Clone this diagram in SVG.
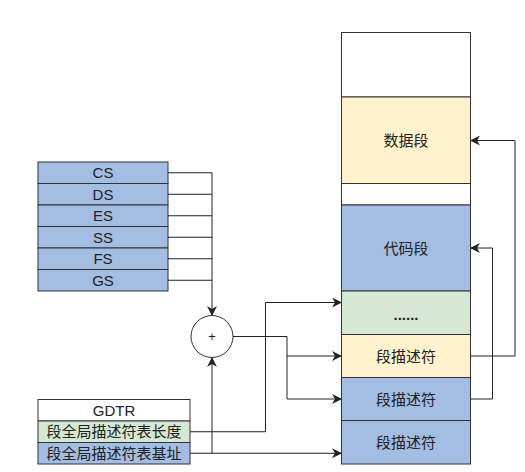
<svg xmlns="http://www.w3.org/2000/svg" width="525" height="472" viewBox="0 0 525 472">
<defs>
<style>
.box{stroke:#333;stroke-width:1}
.w{fill:#ffffff}
.b{fill:#a3bde3}
.y{fill:#fff2cc}
.g{fill:#d5e8d4}
.t{font-family:"Liberation Sans","Noto Sans CJK SC",sans-serif;font-size:15px;fill:#222;text-anchor:middle;dominant-baseline:central}
.c{fill:none;stroke:#222;stroke-width:1}
</style>
<marker id="ah" viewBox="0 0 10 10" refX="9" refY="5" markerWidth="10" markerHeight="10" markerUnits="userSpaceOnUse" orient="auto">
<path d="M0,0 L10,5 L0,10 L3,5 Z" fill="#222"/>
</marker>
</defs>
<rect width="525" height="472" fill="#ffffff"/>
<g id="registers">
<g id="cs"><rect class="box b" x="38" y="162" width="130" height="21.5"/><text class="t" x="103" y="172.75">CS</text></g>
<g id="ds"><rect class="box b" x="38" y="183.5" width="130" height="21.5"/><text class="t" x="103" y="194.25">DS</text></g>
<g id="es"><rect class="box b" x="38" y="205" width="130" height="21.5"/><text class="t" x="103" y="215.75">ES</text></g>
<g id="ss"><rect class="box b" x="38" y="226.5" width="130" height="21.5"/><text class="t" x="103" y="237.25">SS</text></g>
<g id="fs"><rect class="box b" x="38" y="248" width="130" height="21.5"/><text class="t" x="103" y="258.75">FS</text></g>
<g id="gs"><rect class="box b" x="38" y="269.5" width="130" height="21.5"/><text class="t" x="103" y="280.25">GS</text></g>
</g>
<g id="gdtr">
<g id="gdtr-title"><rect class="box w" x="38" y="399.5" width="152" height="21.5"/><text class="t" x="114" y="410.25">GDTR</text></g>
<g id="gdtr-limit"><rect class="box g" x="38" y="421" width="152" height="21.5"/><text class="t" x="114" y="431.75">段全局描述符表长度</text></g>
<g id="gdtr-base"><rect class="box b" x="38" y="442.5" width="152" height="21.5"/><text class="t" x="114" y="453.25">段全局描述符表基址</text></g>
</g>
<g id="adder">
<circle class="box w" cx="212" cy="336.5" r="21"/>
<text class="t" x="212" y="336.5" style="font-size:13px">+</text>
</g>
<g id="memory">
<g id="mem-top"><rect class="box w" x="341.5" y="32.5" width="129" height="64.5"/></g>
<g id="data-seg"><rect class="box y" x="341.5" y="97" width="129" height="86.5"/><text class="t" x="406" y="140.5">数据段</text></g>
<g id="mem-gap"><rect class="box w" x="341.5" y="183.5" width="129" height="21.5"/></g>
<g id="code-seg"><rect class="box b" x="341.5" y="205" width="129" height="86"/><text class="t" x="406" y="248">代码段</text></g>
<g id="dots"><rect class="box g" x="341.5" y="291" width="129" height="43.5"/><text class="t" x="406" y="314.5" style="font-weight:bold">......</text></g>
<g id="desc1"><rect class="box y" x="341.5" y="334.5" width="129" height="43"/><text class="t" x="406" y="356">段描述符</text></g>
<g id="desc2"><rect class="box b" x="341.5" y="377.5" width="129" height="43"/><text class="t" x="406" y="399">段描述符</text></g>
<g id="desc3"><rect class="box b" x="341.5" y="420.5" width="129" height="43.5"/><text class="t" x="406" y="442.5">段描述符</text></g>
</g>
<g id="connectors">
<path class="c" d="M168,172.75 H212 M168,194.25 H212 M168,215.75 H212 M168,237.25 H212 M168,258.75 H212 M168,280.25 H212"/>
<path class="c" d="M212,172.75 V315" marker-end="url(#ah)"/>
<path class="c" d="M190,453.25 H212 V358" marker-end="url(#ah)"/>
<path class="c" d="M212,453.25 H341" marker-end="url(#ah)"/>
<path class="c" d="M190,431.75 H265.5 V302.5 H341" marker-end="url(#ah)"/>
<path class="c" d="M233,336.5 H287 V399 H341" marker-end="url(#ah)"/>
<path class="c" d="M287,356 H341" marker-end="url(#ah)"/>
<path class="c" d="M470.5,356 H515 V140.5 H471" marker-end="url(#ah)"/>
<path class="c" d="M470.5,399 H492.5 V248 H471" marker-end="url(#ah)"/>
</g>
</svg>
